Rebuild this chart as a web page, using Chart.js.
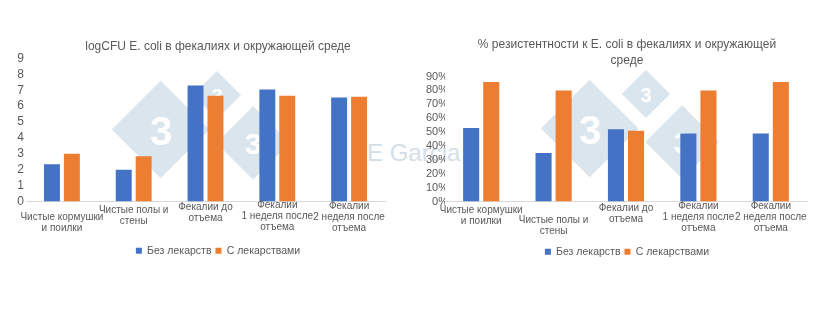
<!DOCTYPE html>
<html lang="ru">
  <head>
    <meta charset="UTF-8" />
    <title>E. coli в фекалиях и окружающей среде</title>
    <style>
      html,
      body {
        margin: 0;
        height: 100%;
        background: #fff;
        overflow: hidden;
      }
      .wrap {
        position: relative;
        width: 820px;
        height: 326px;
        overflow: hidden;
      }
      canvas {
        position: absolute;
        top: 0;
        z-index: 1;
      }
      #logChart {
        left: 0;
      }
      #resChart {
        left: 426px;
      }
      .dia {
        position: absolute;
        z-index: 0;
        background: #dbe5ee;
        transform: rotate(45deg);
      }
      .three {
        position: absolute;
        z-index: 0;
        transform: translate(-50%, -50%);
        color: #fff;
        font-family: "Liberation Sans", Arial, sans-serif;
        font-weight: bold;
      }
      .sig {
        position: absolute;
        z-index: 0;
        left: 367px;
        top: 139px;
        font: 24px "Liberation Sans", Arial, sans-serif;
        color: #d3dee8;
      }
    </style>
  </head>
  <body>
    <div class="wrap" id="wrap">
      <div class="sig">E Garcia</div>
      <canvas id="logChart" width="436" height="326"></canvas>
      <canvas id="resChart" width="402" height="326"></canvas>
    </div>

    <script src="https://cdn.jsdelivr.net/npm/chart.js"></script>

    <script>
      // Категории (по оси X) и серии
      const categories = [
        "Чистые кормушки и поилки",
        "Чистые полы и стены",
        "Фекалии до отъема",
        "Фекалии 1 неделя после отъема",
        "Фекалии 2 неделя после отъема",
      ];
      const categoryLines = [
        ["Чистые кормушки", "и поилки"],
        ["Чистые полы и", "стены"],
        ["Фекалии до", "отъема"],
        ["Фекалии", "1 неделя после", "отъема"],
        ["Фекалии", "2 неделя после", "отъема"],
      ];
      const seriesNames = ["Без лекарств", "С лекарствами"];

      // logCFU E. coli
      const logNoDrug = [2.35, 2.0, 7.3, 7.05, 6.55];
      const logDrug = [3.0, 2.85, 6.65, 6.65, 6.6];
      const logMax = 9;
      const logStep = 1;

      // % резистентности
      const resNoDrug = [53, 35, 52, 49, 49];
      const resDrug = [86, 80, 51, 80, 86];
      const resMax = 90;
      const resStep = 10;

      Chart.defaults.font.family = '"Liberation Sans", Arial, sans-serif';
      Chart.defaults.color = "#595959";

      // Подписи категорий рисуем сами: у каждой своё смещение вниз
      const catLabels = {
        id: "catLabels",
        afterDraw(chart, args, opts) {
          const { ctx } = chart;
          const x = chart.scales.x;
          ctx.save();
          ctx.font = '10px "Liberation Sans", Arial, sans-serif';
          ctx.fillStyle = "#595959";
          ctx.textAlign = "center";
          ctx.textBaseline = "middle";
          categoryLines.forEach((lines, i) => {
            const cx = x.getPixelForValue(i);
            const y0 = x.top + opts.shift[i];
            lines.forEach((t, j) => ctx.fillText(t, cx, y0 + j * 11));
          });
          ctx.restore();
        },
      };

      function barChart(id, o) {
        return new Chart(document.getElementById(id), {
          type: "bar",
          data: {
            labels: categories,
            datasets: [
              { label: seriesNames[0], data: o.a, backgroundColor: "#4472C4" },
              { label: seriesNames[1], data: o.b, backgroundColor: "#ED7D31" },
            ],
          },
          options: {
            responsive: false,
            devicePixelRatio: 1,
            animation: false,
            categoryPercentage: 0.555,
            barPercentage: 0.8,
            layout: { padding: { left: 0, right: 0, top: 0, bottom: o.padBottom } },
            plugins: {
              title: {
                display: true,
                text: o.title,
                color: "#595959",
                font: { size: 12, weight: "normal", lineHeight: 1.333 },
                padding: { top: o.titleTop, bottom: o.titleBottom },
              },
              legend: {
                position: "bottom",
                labels: {
                  boxWidth: 6,
                  boxHeight: 6,
                  padding: 4,
                  color: "#595959",
                  font: { size: 10.5 },
                },
              },
              tooltip: { enabled: false },
              catLabels: { shift: o.shift },
            },
            scales: {
              x: {
                grid: { display: false, drawTicks: false },
                border: { color: "#D9D9D9" },
                ticks: { display: false },
                afterFit: (s) => {
                  s.height = o.axisH;
                },
              },
              y: {
                min: 0,
                max: o.max,
                grid: { display: false, drawTicks: false },
                border: { display: false },
                ticks: {
                  stepSize: o.step,
                  autoSkip: false,
                  padding: o.tickPad,
                  color: "#595959",
                  font: { size: o.tickSize },
                  callback: o.fmt,
                },
                afterFit: (s) => {
                  s.width = o.axisW;
                },
              },
              // пустое поле справа, чтобы заголовок и легенда стояли по центру всего блока
              gap: {
                position: "right",
                grid: { display: false, drawTicks: false },
                border: { display: false },
                ticks: { display: false },
                afterFit: (s) => {
                  s.width = o.gapW;
                },
              },
            },
          },
          plugins: [catLabels],
        });
      }

      barChart("logChart", {
        a: logNoDrug,
        b: logDrug,
        max: logMax,
        step: logStep,
        fmt: (v) => v,
        title: "logCFU E. coli в фекалиях и окружающей среде",
        titleTop: 39,
        titleBottom: 3.5,
        gapW: 51,
        padBottom: 60,
        axisH: 40,
        axisW: 26,
        tickPad: 2,
        tickSize: 12,
        shift: [16, 8.5, 6, 3.5, 5],
      });

      barChart("resChart", {
        a: resNoDrug,
        b: resDrug,
        max: resMax,
        step: resStep,
        fmt: (v) => v + "%",
        title: ["% резистентности к E. coli в фекалиях и окружающей", "среде"],
        titleTop: 37,
        titleBottom: 7.5,
        gapW: 21,
        padBottom: 59,
        axisH: 41,
        axisW: 19,
        tickPad: -3,
        tickSize: 11,
        shift: [9, 19, 7, 5, 5],
      });

      // Водяной знак под графиками: три ромба с цифрой 3
      function stamp(cx, cy) {
        const wrap = document.getElementById("wrap");
        [
          [0, 0, 49, 40],
          [56, -35, 24, 20],
          [92, 13, 37, 30],
        ].forEach(([dx, dy, h, fs]) => {
          const side = h * Math.SQRT2;
          const d = document.createElement("div");
          d.className = "dia";
          d.style.width = side + "px";
          d.style.height = side + "px";
          d.style.left = cx + dx - side / 2 + "px";
          d.style.top = cy + dy - side / 2 + "px";
          wrap.appendChild(d);
          const t = document.createElement("div");
          t.className = "three";
          t.textContent = "3";
          t.style.fontSize = fs + "px";
          t.style.left = cx + dx + "px";
          t.style.top = cy + dy + 1 + "px";
          wrap.appendChild(t);
        });
      }
      stamp(161, 130);
      stamp(590, 129);
    </script>
  </body>
</html>
